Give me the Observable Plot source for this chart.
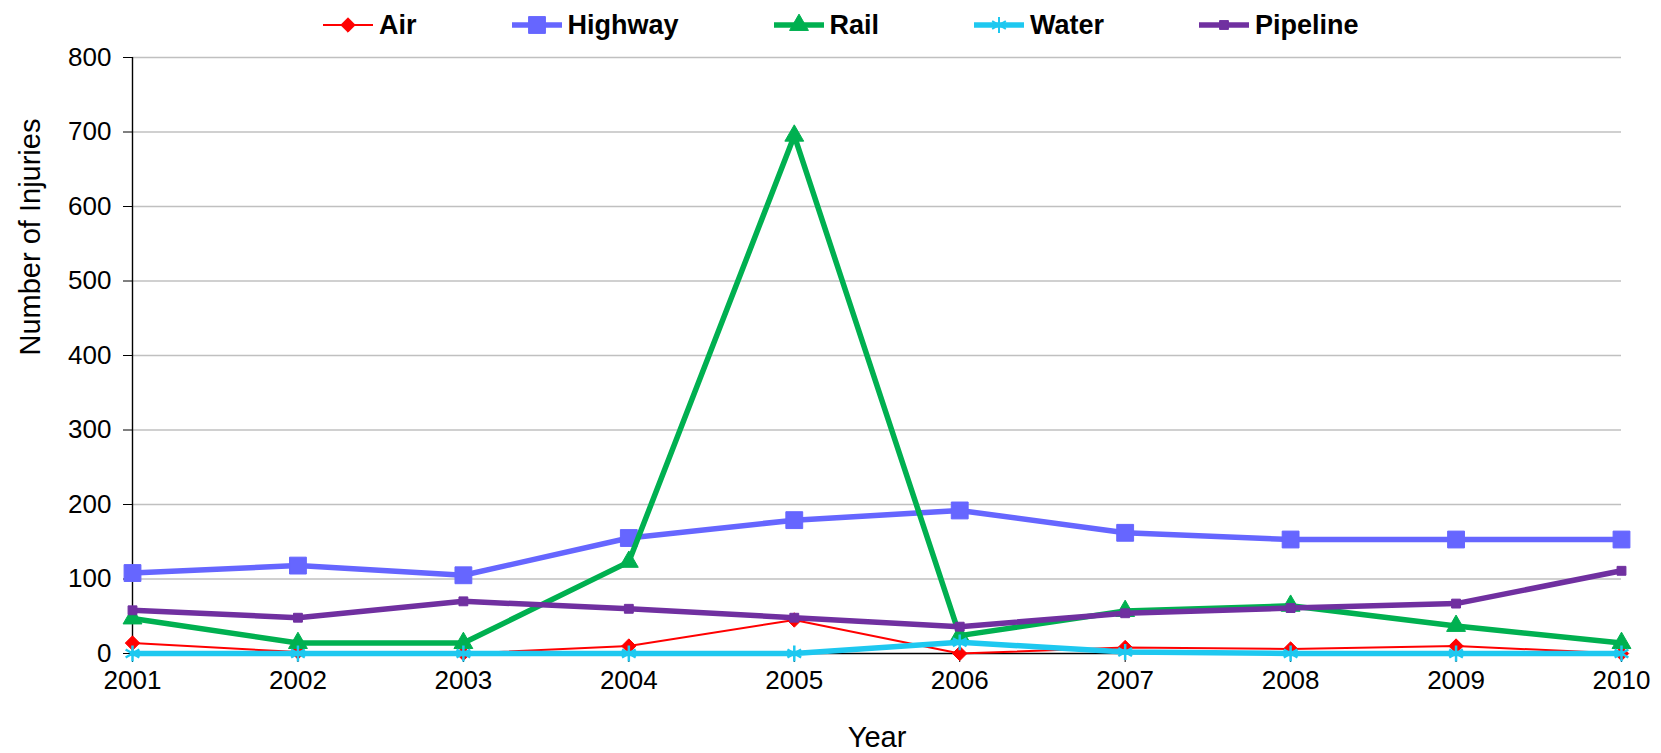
<!DOCTYPE html>
<html>
<head>
<meta charset="utf-8">
<script src="https://cdn.jsdelivr.net/npm/d3@7"></script>
<script src="https://cdn.jsdelivr.net/npm/@observablehq/plot@0.6"></script>
<style>
  html, body { margin: 0; padding: 0; background: #fff; }
  #wrap { position: relative; width: 1661px; height: 753px; font-family: "Liberation Sans", Arial, sans-serif; }
  #legend { position: absolute; top: 10px; left: 322px; display: flex; gap: 94px; }
  #legend .item { display: flex; align-items: center; font-weight: bold; font-size: 27px; color: #000; line-height: 30px; }
  #legend svg { margin-right: 5px; }
  #chart { position: absolute; top: 0; left: 0; }
</style>
</head>
<body>
<div id="wrap">
  <div id="chart"></div>
  <div id="legend"></div>
</div>
<script>
const years = [2001, 2002, 2003, 2004, 2005, 2006, 2007, 2008, 2009, 2010];
const air      = [14, 2, 0, 10, 45, 0, 8, 6, 10, 0];
const highway  = [108, 118, 105, 155, 179, 192, 162, 153, 153, 153];
const rail     = [47, 14, 14, 123, 695, 24, 57, 64, 37, 14];
const water    = [0, 0, 0, 0, 0, 15, 2, 0, 0, 0];
const pipeline = [58, 48, 70, 60, 48, 36, 54, 61, 67, 111];
const yTicks = [0, 100, 200, 300, 400, 500, 600, 700, 800];

const series = [
  {name: "Air", values: air, color: "#ff0000", width: 2, symbol: "diamond2", r: 6.5, fill: true},
  {name: "Highway", values: highway, color: "#6666ff", width: 5.5, symbol: "square", r: 9.5, fill: true},
  {name: "Rail", values: rail, color: "#00b050", width: 5.5, symbol: "triangle", r: 7, fill: true},
  {name: "Water", values: water, color: "#1ec8f0", width: 5.5, symbol: "asterisk", r: 7.5, fill: false},
  {name: "Pipeline", values: pipeline, color: "#7030a0", width: 5.5, symbol: "square", r: 5, fill: true}
];

const rows = series.map(s => years.map((y, i) => ({year: y, value: s.values[i], name: s.name})));

const marks = [
  Plot.gridY(yTicks.filter(t => t > 0), {stroke: "#c0c0c0", strokeOpacity: 1, strokeWidth: 1.4}),
  Plot.axisY(yTicks, {tickSize: 9, tickPadding: 12, fontSize: 26, label: null, stroke: "#000"}),
  Plot.axisX(years, {tickSize: 9, tickPadding: 8, fontSize: 26, label: null, tickFormat: d => String(d)}),
  Plot.ruleX([2001], {stroke: "#000", strokeWidth: 1.4}),
  Plot.ruleY([0], {stroke: "#000", strokeWidth: 1.4}),
  Plot.text(["Year"], {frameAnchor: "bottom", lineAnchor: "middle", dy: 84, fontSize: 29, fill: "#000"}),
  Plot.text(["Number of Injuries"], {frameAnchor: "left", dx: -102, rotate: -90, fontSize: 29, fill: "#000"})
];
series.forEach((s, k) => {
  marks.push(Plot.line(rows[k], {x: "year", y: "value", stroke: s.color, strokeWidth: s.width}));
  marks.push(Plot.dot(rows[k], {
    x: "year", y: "value", symbol: s.symbol, r: s.r,
    fill: s.fill ? s.color : "none", stroke: s.color, strokeWidth: s.fill ? 1 : 2.5
  }));
});

const chart = Plot.plot({
  width: 1661,
  height: 753,
  marginLeft: 132,
  marginRight: 40,
  marginTop: 57,
  marginBottom: 100,
  style: {fontFamily: "'Liberation Sans', Arial, sans-serif", color: "#000", background: "#fff"},
  x: {type: "linear", domain: [2001, 2010]},
  y: {domain: [0, 800]},
  marks
});
document.getElementById("chart").appendChild(chart);

// Legend
const legend = d3.select("#legend");
const symbols = {diamond2: d3.symbolDiamond2, square: d3.symbolSquare, triangle: d3.symbolTriangle, asterisk: d3.symbolAsterisk};
series.forEach(s => {
  const item = legend.append("div").attr("class", "item");
  const sv = item.append("svg").attr("width", 52).attr("height", 24);
  sv.append("line").attr("x1", 1).attr("x2", 51).attr("y1", 12).attr("y2", 12)
    .attr("stroke", s.color).attr("stroke-width", s.width);
  const sym = d3.symbol().type(symbols[s.symbol]).size(Math.PI * s.r * s.r);
  sv.append("path").attr("d", sym()).attr("transform", "translate(26,12)")
    .attr("fill", s.fill ? s.color : "none").attr("stroke", s.color).attr("stroke-width", s.fill ? 1 : 2);
  item.append("span").text(s.name);
});
</script>
</body>
</html>
